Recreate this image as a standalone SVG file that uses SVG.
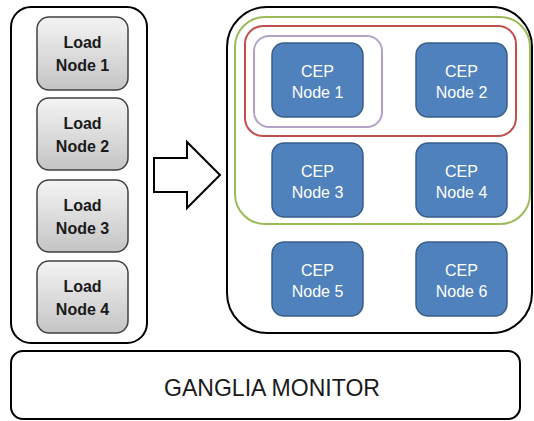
<svg xmlns="http://www.w3.org/2000/svg" width="534" height="421" viewBox="0 0 534 421">
<style>
.cont{fill:#fff;stroke:#000;stroke-width:2}
.load rect{fill:url(#gray);stroke:#404040;stroke-width:1.5}
.load text{font-family:"Liberation Sans",Arial,sans-serif;font-size:16px;font-weight:bold;fill:#1a1a1a;text-anchor:middle}
.cep rect{fill:#4F81BD;stroke:#385D8A;stroke-width:1.5}
.cep text{font-family:"Liberation Sans",Arial,sans-serif;font-size:16px;fill:#fff;text-anchor:middle}
.grp{fill:none;stroke-width:2}
</style>
<defs>
<linearGradient id="gray" x1="0" y1="0" x2="0" y2="1">
<stop offset="0" stop-color="#f4f4f4"/>
<stop offset="1" stop-color="#c4c4c4"/>
</linearGradient>
</defs>
<rect width="534" height="421" fill="#fff"/>
<g id="load-cluster"><rect class="cont" x="11" y="7" width="136" height="336" rx="20"/></g>
<g id="cep-cluster"><rect class="cont" x="227" y="7" width="305" height="326" rx="40"/></g>
<g id="groups">
<rect class="grp" x="235" y="17" width="295" height="207" rx="30" stroke="#9BBB59"/>
<rect class="grp" x="245" y="26" width="271" height="110" rx="18" stroke="#C0504D"/>
<rect class="grp" x="254" y="36" width="128" height="91" rx="15" stroke="#B3A2C7"/>
</g>
<g id="load1" class="load"><rect x="37" y="17" width="91" height="73" rx="12"/><text x="82.5" y="48">Load</text><text x="82.5" y="71">Node 1</text></g>
<g id="load2" class="load"><rect x="37" y="98" width="91" height="72" rx="12"/><text x="82.5" y="129">Load</text><text x="82.5" y="152">Node 2</text></g>
<g id="load3" class="load"><rect x="37" y="180" width="91" height="72" rx="12"/><text x="82.5" y="211">Load</text><text x="82.5" y="234">Node 3</text></g>
<g id="load4" class="load"><rect x="37" y="261" width="91" height="72" rx="12"/><text x="82.5" y="292">Load</text><text x="82.5" y="315">Node 4</text></g>
<g id="cep1" class="cep"><rect x="272" y="43" width="91" height="74" rx="12"/><text x="317.5" y="77">CEP</text><text x="317.5" y="98">Node 1</text></g>
<g id="cep2" class="cep"><rect x="416" y="43" width="91" height="74" rx="12"/><text x="461.5" y="77">CEP</text><text x="461.5" y="98">Node 2</text></g>
<g id="cep3" class="cep"><rect x="272" y="143" width="91" height="74" rx="12"/><text x="317.5" y="177">CEP</text><text x="317.5" y="198">Node 3</text></g>
<g id="cep4" class="cep"><rect x="416" y="143" width="91" height="74" rx="12"/><text x="461.5" y="177">CEP</text><text x="461.5" y="198">Node 4</text></g>
<g id="cep5" class="cep"><rect x="272" y="242" width="91" height="74" rx="12"/><text x="317.5" y="276">CEP</text><text x="317.5" y="297">Node 5</text></g>
<g id="cep6" class="cep"><rect x="416" y="242" width="91" height="74" rx="12"/><text x="461.5" y="276">CEP</text><text x="461.5" y="297">Node 6</text></g>
<g id="connectors">
<polygon points="154,158 187,158 187,142 220,175 187,208 187,192 154,192" fill="#fff" stroke="#000" stroke-width="2" stroke-linejoin="miter"/>
</g>
<g id="ganglia">
<rect class="cont" x="11" y="351" width="509" height="68" rx="12"/>
<text x="272" y="396" font-family="'Liberation Sans',Arial,sans-serif" font-size="24" fill="#1a1a1a" text-anchor="middle" textLength="216" lengthAdjust="spacingAndGlyphs">GANGLIA MONITOR</text>
</g>
</svg>
